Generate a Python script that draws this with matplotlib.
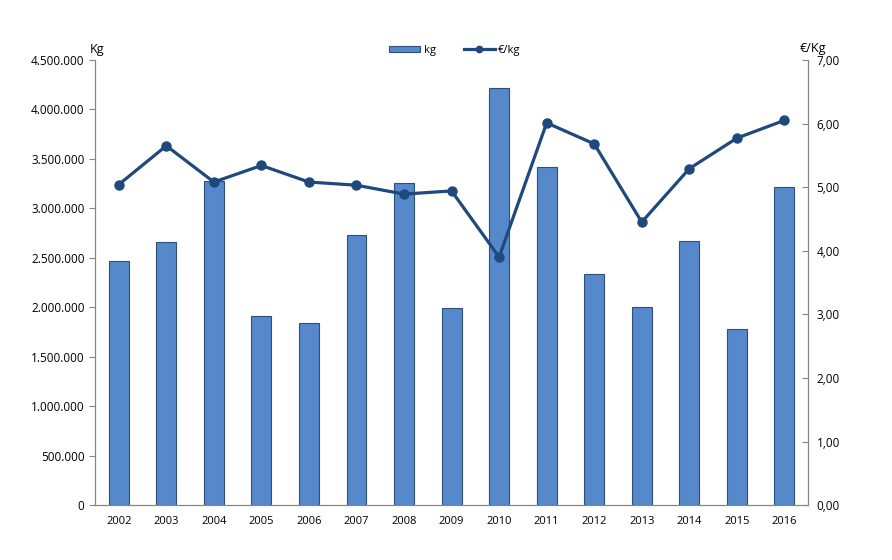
import matplotlib
matplotlib.use("Agg")
from matplotlib import pyplot as plt
from matplotlib.ticker import FuncFormatter

years = ["2002", "2003", "2004", "2005", "2006", "2007", "2008", "2009",
         "2010", "2011", "2012", "2013", "2014", "2015", "2016"]
kg = [2467000, 2660000, 3276000, 1911000, 1840000, 2730000, 3256000, 1990000,
      4217000, 3420000, 2336000, 2000000, 2670000, 1780000, 3216000]
eur_kg = [5.04, 5.65, 5.08, 5.34, 5.08, 5.03, 4.89, 4.94,
          3.90, 6.01, 5.68, 4.45, 5.29, 5.77, 6.05]

plt.rcParams['font.family'] = ['Open Sans', 'DejaVu Sans']
fig = plt.figure(figsize=(8.92, 5.6), dpi=100)
ax = fig.add_axes([0.1065, 0.098, 0.7995, 0.795])
ax2 = ax.twinx()

x = list(range(len(years)))
bars = ax.bar(x, kg, width=0.42, color="#5589cc", edgecolor="#2f4f78", linewidth=0.8, label="kg", zorder=2)
ln, = ax2.plot(x, eur_kg, color="#1f497d", linewidth=2.3, marker="o", markersize=6.5, label="€/kg", zorder=3)

ax.set_xlim(-0.5, len(years) - 0.5)
ax.set_ylim(0, 4500000)
ax.set_yticks(range(0, 4500001, 500000))
ax.yaxis.set_major_formatter(FuncFormatter(lambda v, p: f"{int(v):,}".replace(",", ".")))
ax2.set_ylim(0, 7)
ax2.set_yticks(range(0, 8))
ax2.yaxis.set_major_formatter(FuncFormatter(lambda v, p: f"{v:.2f}".replace(".", ",")))

ax.set_xticks(x)
ax.set_xticklabels(years)
ax.tick_params(axis="x", length=0, labelsize=8, pad=8)
ax.tick_params(axis="y", direction="out", length=4, color="#868686", labelsize=8.5)
ax2.tick_params(axis="y", direction="in", length=4, color="#868686", labelsize=8.5, pad=6)

for a in (ax, ax2):
    a.spines["top"].set_visible(False)
    for s in ("left", "right", "bottom"):
        a.spines[s].set_color("#868686")

ax.set_zorder(1)
ax2.set_zorder(2)
ax.patch.set_visible(False)

fig.text(0.101, 0.905, "Kg", fontsize=9)
fig.text(0.896, 0.908, "€/Kg", fontsize=9)

fig.legend([bars, ln], ["kg", "€/kg"], loc="center", bbox_to_anchor=(0.51, 0.91), ncol=2,
           frameon=False, fontsize=8, handlelength=2.8, handleheight=0.5, handletextpad=0.3,
           columnspacing=2.5, markerscale=0.7)

fig.savefig("out.png", dpi=100)
